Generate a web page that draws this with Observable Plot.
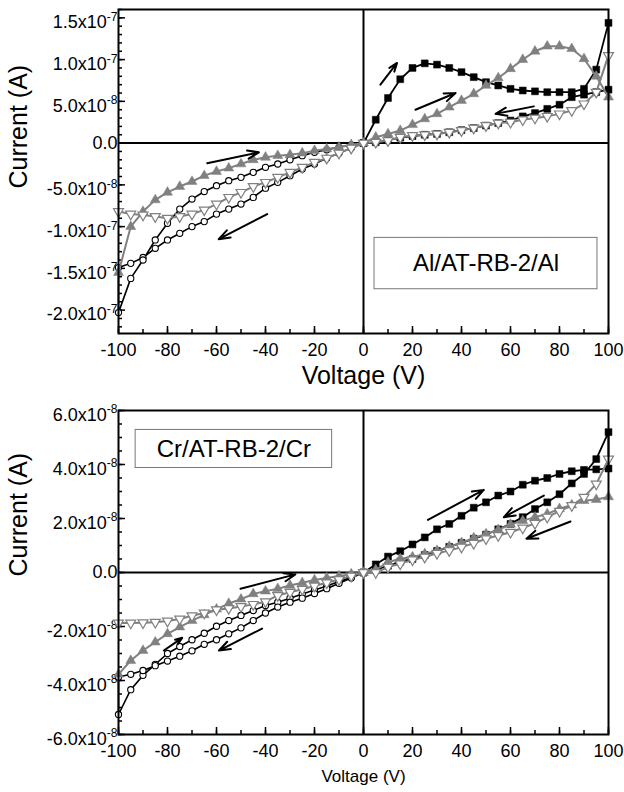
<!DOCTYPE html>
<html><head><meta charset="utf-8">
<script src="https://cdn.jsdelivr.net/npm/d3@7"></script>
<script src="https://cdn.jsdelivr.net/npm/@observablehq/plot@0.6"></script>
<style>
body{margin:0;background:#fff;}
#chart{width:624px;height:792px;position:relative;overflow:hidden;font-family:"Liberation Sans",Arial,sans-serif;background:#fff;}
#chart svg{display:block;}
</style></head><body><div id="chart"></div>
<script>
// ---------- DATA (current in units of 1e-8 A) ----------
const xTicks = [-100, -80, -60, -40, -20, 0, 20, 40, 60, 80, 100];
const xTickLabels = ["-100", "-80", "-60", "-40", "-20", "0", "20", "40", "60", "80", "100"];

// Al/AT-RB-2/Al panel
const alYTicks = [15, 10, 5, 0, -5, -10, -15, -20];
const alYTickLabels = ["1.5x10^-7", "1.0x10^-7", "5.0x10^-8", "0.0", "-5.0x10^-8", "-1.0x10^-7", "-1.5x10^-7", "-2.0x10^-7"];

const alSquareV = [0, 5, 10, 15, 20, 25, 30, 35, 40, 45, 50, 55, 60, 65, 70, 75, 80, 85, 90, 95, 100,
  100, 95, 90, 85, 80, 75, 70, 65, 60, 55, 50, 45, 40, 35, 30, 25, 20, 15, 10, 5, 0];
const alSquareI = [0, 2.8, 5.4, 7.65, 9.0, 9.55, 9.4, 9.0, 8.5, 7.9, 7.3, 6.9, 6.5, 6.3, 6.2, 6.1, 6.1, 6.1, 6.5, 8.8, 14.4,
  6.4, 6.1, 5.8, 5.5, 4.6, 4.1, 3.6, 3.2, 2.7, 2.4, 2.1, 1.8, 1.55, 1.3, 1.1, 1.0, 0.85, 0.65, 0.35, 0.1, 0];

const alCircleV = [0, -5, -10, -15, -20, -25, -30, -35, -40, -45, -50, -55, -60, -65, -70, -75, -80, -85, -90, -95, -100,
  -100, -95, -90, -85, -80, -75, -70, -65, -60, -55, -50, -45, -40, -35, -30, -25, -20, -15, -10, -5, 0];
const alCircleI = [0, -0.6, -1.2, -1.8, -2.5, -3.1, -3.9, -4.7, -5.4, -6.5, -7.3, -7.9, -8.5, -9.4, -10.0, -10.8, -11.6, -12.6, -13.7, -14.4, -14.9,
  -20.3, -16.2, -14.0, -11.6, -9.6, -7.9, -6.7, -5.8, -5.1, -4.5, -4.1, -3.5, -2.9, -2.5, -2.0, -1.5, -1.1, -0.8, -0.5, -0.2, 0];

const sweepV = [-100, -95, -90, -85, -80, -75, -70, -65, -60, -55, -50, -45, -40, -35, -30, -25, -20, -15, -10, -5, 0,
  5, 10, 15, 20, 25, 30, 35, 40, 45, 50, 55, 60, 65, 70, 75, 80, 85, 90, 95, 100];
const alTriUpI = [-15.5, -10.0, -8.2, -6.8, -5.9, -5.2, -4.6, -3.9, -3.4, -3.0, -2.5, -2.0, -1.7, -1.5, -1.4, -1.2, -0.9, -0.7, -0.5, -0.2, 0,
  0.7, 1.1, 1.5, 2.2, 2.9, 3.5, 4.3, 5.1, 5.9, 6.9, 7.8, 8.9, 10.0, 11.0, 11.6, 11.6, 11.3, 10.1, 8.0, 5.5];
const alTriDownI = [-8.2, -8.5, -8.6, -8.8, -9.0, -8.8, -8.5, -8.0, -7.3, -6.5, -5.9, -5.2, -4.7, -4.1, -3.5, -2.9, -2.3, -1.8, -1.2, -0.6, 0,
  0.1, 0.3, 0.7, 0.9, 1.0, 1.1, 1.3, 1.5, 1.8, 2.1, 2.4, 2.5, 2.8, 3.0, 3.2, 3.5, 3.9, 4.7, 6.1, 10.5];

const alArrows = [
  {x1: -63.8, y1: -2.4, x2: -42.7, y2: -1.1},
  {x1: -39.3, y1: -8.5, x2: -59.1, y2: -11.5},
  {x1: 6.9, y1: 7.0, x2: 13.7, y2: 9.6},
  {x1: 21.2, y1: 4.0, x2: 37.6, y2: 6.0},
  {x1: 69.5, y1: 4.4, x2: 53.9, y2: 3.5}
];
const alBox = [{x1: 4.5, x2: 95.5, y1: -11.35, y2: -17.5, label: "Al/AT-RB-2/Al"}];

// Cr/AT-RB-2/Cr panel
const crYTicks = [6, 4, 2, 0, -2, -4, -6];
const crYTickLabels = ["6.0x10^-8", "4.0x10^-8", "2.0x10^-8", "0.0", "-2.0x10^-8", "-4.0x10^-8", "-6.0x10^-8"];

const crSquareV = [0, 5, 10, 15, 20, 25, 30, 35, 40, 45, 50, 55, 60, 65, 70, 75, 80, 85, 90, 95, 100,
  100, 95, 90, 85, 80, 75, 70, 65, 60, 55, 50, 45, 40, 35, 30, 25, 20, 15, 10, 5, 0];
const crSquareI = [0, 0.30, 0.59, 0.79, 1.04, 1.3, 1.6, 1.8, 2.1, 2.4, 2.6, 2.85, 3.0, 3.25, 3.4, 3.5, 3.65, 3.75, 3.8, 3.82, 3.85,
  5.2, 4.2, 3.65, 3.3, 2.9, 2.6, 2.35, 2.05, 1.8, 1.6, 1.4, 1.25, 1.1, 0.95, 0.8, 0.65, 0.5, 0.4, 0.25, 0.1, 0];

const crCircleV = [0, -5, -10, -15, -20, -25, -30, -35, -40, -45, -50, -55, -60, -65, -70, -75, -80, -85, -90, -95, -100,
  -100, -95, -90, -85, -80, -75, -70, -65, -60, -55, -50, -45, -40, -35, -30, -25, -20, -15, -10, -5, 0];
const crCircleI = [0, -0.17, -0.33, -0.5, -0.65, -0.8, -0.95, -1.1, -1.22, -1.41, -1.59, -1.78, -1.99, -2.25, -2.49, -2.74, -3.0, -3.4, -3.81, -4.34, -5.26,
  -3.87, -3.77, -3.63, -3.45, -3.28, -3.1, -2.9, -2.66, -2.49, -2.27, -2.05, -1.78, -1.5, -1.28, -1.1, -0.95, -0.78, -0.6, -0.4, -0.2, 0];

const crTriUpI = [-3.77, -3.26, -2.89, -2.58, -2.27, -2.02, -1.78, -1.57, -1.36, -1.15, -0.99, -0.79, -0.69, -0.6, -0.48, -0.38, -0.28, -0.2, -0.13, -0.06, 0,
  0.1, 0.38, 0.51, 0.57, 0.69, 0.81, 0.96, 1.1, 1.28, 1.43, 1.58, 1.78, 1.92, 2.05, 2.17, 2.36, 2.5, 2.66, 2.7, 2.8];
const crTriDownI = [-1.87, -1.87, -1.86, -1.84, -1.8, -1.72, -1.6, -1.5, -1.38, -1.33, -1.26, -1.18, -1.08, -0.85, -0.73, -0.62, -0.5, -0.38, -0.26, -0.13, 0,
  0.0, 0.2, 0.32, 0.47, 0.57, 0.71, 0.81, 0.94, 1.08, 1.25, 1.37, 1.49, 1.65, 1.82, 2.05, 2.27, 2.48, 2.79, 3.28, 4.2];

const crArrows = [
  {x1: -50.2, y1: -0.60, x2: -27.8, y2: -0.07},
  {x1: -81.5, y1: -2.89, x2: -74, y2: -2.42},
  {x1: -41.4, y1: -2.08, x2: -59, y2: -2.89},
  {x1: 26.3, y1: 1.95, x2: 49.1, y2: 3.06},
  {x1: 73.6, y1: 2.85, x2: 57.3, y2: 2.05},
  {x1: 84.5, y1: 1.89, x2: 66.5, y2: 1.25}
];
const crBox = [{x1: -93, x2: -12.8, y1: 5.28, y2: 3.87, label: "Cr/AT-RB-2/Cr"}];

// ---------- DRAWING ----------
const GRAY = "#808080";
const triangleDown = {
  draw(context, size) {
    const s3 = Math.sqrt(3);
    const y = Math.sqrt(size / (s3 * 3));
    context.moveTo(0, y * 2);
    context.lineTo(-s3 * y, -y);
    context.lineTo(s3 * y, -y);
    context.closePath();
  }
};
const rows = (V, I) => V.map((v, i) => ({v, c: I[i]}));

function panel(cfg) {
  const W = 624, ml = 118, mr = 16;
  const frameH = cfg.height - cfg.mt - cfg.mb;
  const frameW = W - ml - mr;
  const xMinor = d3.range(-100, 101, 10);
  const tickStyle = {stroke: "#000", strokeOpacity: 1, strokeWidth: 1.5};
  const S = cfg.series;
  const marks = [
    Plot.ruleX([0], {stroke: "#000", strokeWidth: 2}),
    Plot.ruleY([0], {stroke: "#000", strokeWidth: 2}),
    Plot.gridX(xMinor, {...tickStyle, insetTop: frameH - 4}),
    Plot.gridX(xTicks, {...tickStyle, insetTop: frameH - 7}),
    Plot.gridY(cfg.yMinor, {...tickStyle, insetRight: frameW - 4}),
    Plot.gridY(cfg.yTicks, {...tickStyle, insetRight: frameW - 7}),
    Plot.axisX(xTicks, {tickSize: 0, tickPadding: 10, fontSize: 18, tickFormat: d => xTickLabels[xTicks.indexOf(d)], label: null}),
    Plot.axisY(cfg.yTicks, {tickSize: 0, tickPadding: 1, fontSize: 18, tickFormat: d => cfg.yTickLabels[cfg.yTicks.indexOf(d)], label: null}),
    // circles (open black)
    Plot.line(S.circle, {x: "v", y: "c", stroke: "#000", strokeWidth: 1.6}),
    Plot.dot(S.circle, {x: "v", y: "c", symbol: "circle", r: 3.1, fill: "white", stroke: "#000", strokeWidth: 1.1}),
    // squares (filled black)
    Plot.line(S.square, {x: "v", y: "c", stroke: "#000", strokeWidth: 1.8}),
    Plot.dot(S.square, {x: "v", y: "c", symbol: "square", r: 3.9, fill: "#000", stroke: "#000", strokeWidth: 0.5}),
    // triangles up (filled gray)
    Plot.line(S.triUp, {x: "v", y: "c", stroke: GRAY, strokeWidth: 2}),
    Plot.dot(S.triUp, {x: "v", y: "c", symbol: "triangle", r: 3.7, fill: GRAY, stroke: GRAY, strokeWidth: 0.5}),
    // triangles down (open gray)
    Plot.line(S.triDown, {x: "v", y: "c", stroke: GRAY, strokeWidth: 2}),
    Plot.dot(S.triDown, {x: "v", y: "c", symbol: triangleDown, r: 3.7, fill: "white", stroke: GRAY, strokeWidth: 1.2}),
    Plot.arrow(cfg.arrows, {x1: "x1", y1: "y1", x2: "x2", y2: "y2", stroke: "#000", strokeWidth: 2, headLength: 9, headAngle: 40}),
    Plot.rect(cfg.box, {x1: "x1", x2: "x2", y1: "y1", y2: "y2", fill: "white", stroke: "#777", strokeWidth: 1}),
    Plot.text(cfg.box, {x: d => (d.x1 + d.x2) / 2, y: d => (d.y1 + d.y2) / 2, text: "label", fontSize: cfg.boxFont, fill: "#000"}),
    Plot.text(["Voltage (V)"], {frameAnchor: "bottom", dy: cfg.xLabelDy, fontSize: cfg.xLabelSize, fill: "#000"}),
    Plot.text(["Current (A)"], {frameAnchor: "left", dx: -100, dy: cfg.yLabelDy, rotate: -90, fontSize: 25, fill: "#000"}),
    Plot.frame({stroke: "#000", strokeWidth: 2})
  ];
  const svg = Plot.plot({
    width: W, height: cfg.height,
    marginLeft: ml, marginRight: mr, marginTop: cfg.mt, marginBottom: cfg.mb,
    x: {domain: [-100, 100]},
    y: {domain: cfg.yDomain},
    style: {fontFamily: "'Liberation Sans', Arial, sans-serif", fontSize: "18px", color: "#000", background: "white", overflow: "visible"},
    marks
  });
  // superscript exponents in tick labels
  const ns = "http://www.w3.org/2000/svg";
  svg.querySelectorAll("text").forEach(t => {
    const s = t.textContent;
    const k = s.indexOf("^");
    if (k < 0) return;
    while (t.firstChild) t.removeChild(t.firstChild);
    const a = document.createElementNS(ns, "tspan");
    a.setAttribute("dy", "4.5");
    a.textContent = s.slice(0, k);
    const b = document.createElementNS(ns, "tspan");
    b.setAttribute("dy", "-7.3");
    b.setAttribute("font-size", "12");
    b.textContent = s.slice(k + 1);
    t.append(a, b);
  });
  return svg;
}

const chart = document.getElementById("chart");
chart.append(panel({
  height: 395, mt: 9, mb: 62,
  yDomain: [-22.8, 16.0], yTicks: alYTicks, yTickLabels: alYTickLabels, yMinor: d3.range(-22, 16.5, 1),
  series: {square: rows(alSquareV, alSquareI), circle: rows(alCircleV, alCircleI), triUp: rows(sweepV, alTriUpI), triDown: rows(sweepV, alTriDownI)},
  arrows: alArrows, box: alBox, boxFont: 24, xLabelDy: 50, xLabelSize: 25, yLabelDy: 17
}));
chart.append(panel({
  height: 397, mt: 15, mb: 58,
  yDomain: [-6, 6], yTicks: crYTicks, yTickLabels: crYTickLabels, yMinor: d3.range(-6, 6.01, 0.5),
  series: {square: rows(crSquareV, crSquareI), circle: rows(crCircleV, crCircleI), triUp: rows(sweepV, crTriUpI), triDown: rows(sweepV, crTriDownI)},
  arrows: crArrows, box: crBox, boxFont: 24, xLabelDy: 47.5, xLabelSize: 17, yLabelDy: 4
}));
</script></body></html>
